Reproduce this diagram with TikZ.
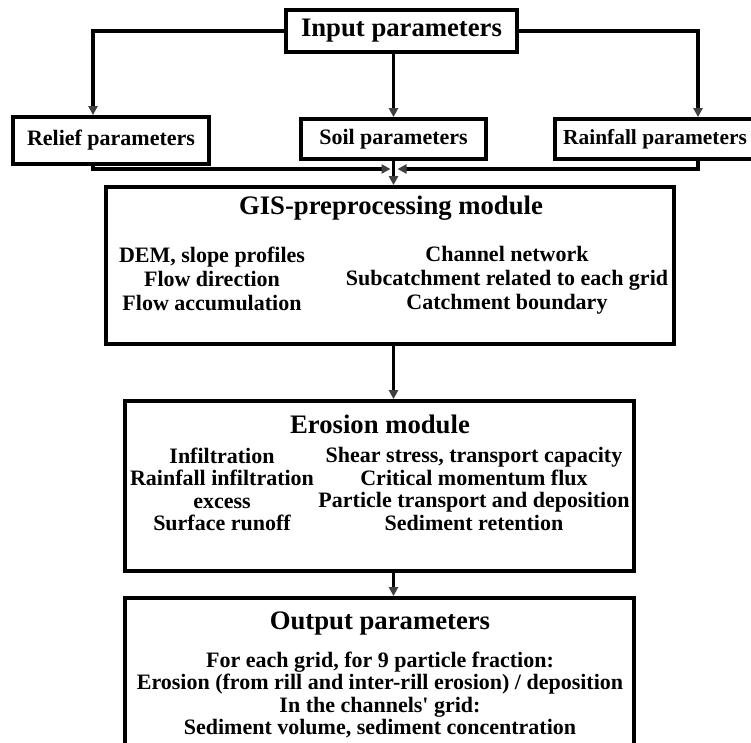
\documentclass[tikz,border=0pt]{standalone}
\usepackage{fontspec}
\setmainfont{Liberation Serif}
\usetikzlibrary{arrows.meta}
\tikzset{frame/.style={draw, line width=3.8pt, inner sep=0pt},
  ttl/.style={font=\bfseries\fontsize{26.7}{30}\selectfont, inner sep=0pt},
  lbl/.style={font=\bfseries\fontsize{22}{24}\selectfont, inner sep=0pt}}

\begin{document}
\begin{tikzpicture}[x=1pt, y=-1pt, line width=3.2pt,
  >={Triangle[length=9pt, width=9pt, color=black!75]},
  col/.style={lbl, align=center, anchor=north}]
  \useasboundingbox (0,0) rectangle (751,742);
  \clip (0,0) rectangle (751,742);
  % input and the three parameter groups
  \node[frame, ttl, minimum width=231pt, minimum height=42pt] (input)
    at (401.5, 31) {Input parameters};
  \node[frame, lbl, minimum width=196pt, minimum height=47pt] (relief)
    at (111, 140.5) {Relief parameters};
  \node[frame, lbl, minimum width=185pt, minimum height=40pt] (soil)
    at (393.5, 139) {Soil parameters};
  \node[frame, lbl, minimum width=200pt, minimum height=40pt,
    font=\bfseries\fontsize{21.4}{24}\selectfont] (rain)
    at (655, 139) {Rainfall parameters};
  \coordinate (merge) at (393.5, 169);
  % GIS module
  \node[frame, minimum width=568pt, minimum height=157pt] (gis)
    at (390, 265.5) {};
  \node[ttl, anchor=base] (gistitle) at (391, 214) {GIS-preprocessing module};
  \node[col, font=\bfseries\fontsize{22}{24}\selectfont] (gisleft)
    at (212, 245) {DEM, slope profiles\\Flow direction\\Flow accumulation};
  \node[col, font=\bfseries\fontsize{22}{24}\selectfont] (gisright)
    at (507, 245) {Channel network\\Subcatchment related to each grid\\Catchment boundary};
  % erosion module
  \node[frame, minimum width=509pt, minimum height=170pt] (erosion)
    at (379.5, 486) {};
  \node[ttl, anchor=base] (erotitle) at (380, 433) {Erosion module};
  \node[col, font=\bfseries\fontsize{22}{22.5}\selectfont] (eroleft)
    at (222, 446) {Infiltration\\Rainfall infiltration\\excess\\Surface runoff};
  \node[col, font=\bfseries\fontsize{22}{22.5}\selectfont] (eroright)
    at (474, 446) {Shear stress, transport capacity\\Critical momentum flux\\
    Particle transport and deposition\\Sediment retention};
  % output
  \node[frame, minimum width=509pt, minimum height=170pt] (output)
    at (379.5, 683) {};
  \node[ttl, anchor=base] (outtitle) at (380, 629) {Output parameters};
  \node[col, font=\bfseries\fontsize{22}{22.5}\selectfont] (outtext)
    at (380, 650) {For each grid, for 9 particle fraction:\\
    Erosion (from rill and inter-rill erosion) / deposition\\
    In the channels\textquotesingle{} grid:\\Sediment volume, sediment concentration};
  % connectors
  \draw[->] (input.west) -| ([xshift=-18pt]relief.north);
  \draw[->] (input.east) -| ([xshift=43pt]rain.north);
  \draw[->] (input.south -| soil.north) -- (soil.north);
  \draw[->] ([xshift=-18pt]relief.south) |- ([xshift=-3pt]merge);
  \draw[->] ([xshift=43pt]rain.south) |- ([xshift=4pt]merge);
  \draw[->] (soil.south) -- (soil.south |- gis.north);
  \draw[->] (gis.south -| soil.south) -- (soil.south |- erosion.north);
  \draw[->] (erosion.south -| soil.south) -- (soil.south |- output.north);
\end{tikzpicture}
\end{document}
